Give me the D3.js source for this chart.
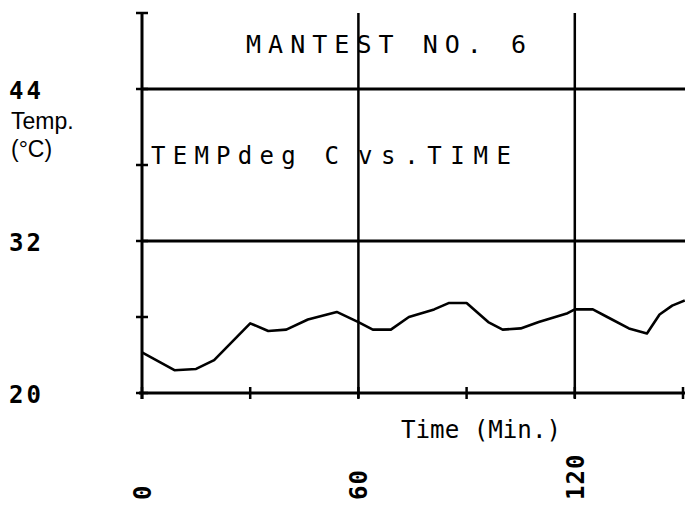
<!DOCTYPE html>
<html>
<head>
<meta charset="utf-8">
<script src="https://d3js.org/d3.v7.min.js"></script>
<style>
  body { margin: 0; padding: 0; background: #fff; }
  svg { display: block; }
  .plot { font-family: "DejaVu Sans Mono", monospace; fill: #000; }
  .lbl { font-family: "Liberation Sans", Arial, sans-serif; fill: #000; }
</style>
</head>
<body>
<script>
// minutes and temperature (deg C)
var times = [0, 9, 15, 20, 30, 35, 40, 46, 54, 60, 64, 69, 74, 81, 85, 90, 96, 100, 105, 110, 118, 120, 125, 129, 135, 140, 143.5, 147, 150.5];
var temps = [23.2, 21.8, 21.9, 22.6, 25.5, 24.9, 25.0, 25.8, 26.4, 25.6, 25.0, 25.0, 26.0, 26.6, 27.1, 27.1, 25.6, 25.0, 25.1, 25.6, 26.3, 26.6, 26.6, 26.0, 25.1, 24.7, 26.2, 26.9, 27.3];
var yTicks = [20, 26, 32, 38, 44, 50];
var yLabels = [20, 32, 44];
var xTicks = [0, 30, 60, 90, 120, 150];
var xLabels = [0, 60, 120];
var gridY = [32, 44];
var gridX = [60, 120];

var width = 685, height = 508;

var svg = d3.select("body").append("svg")
    .attr("width", width)
    .attr("height", height);

var x = d3.scaleLinear().domain([0, 150]).range([142, 683]);
var y = d3.scaleLinear().domain([20, 50]).range([393, 13]);

// grid lines
svg.selectAll(".gy").data(gridY).enter().append("line")
    .attr("x1", x(0)).attr("x2", width)
    .attr("y1", d => y(d)).attr("y2", d => y(d))
    .attr("stroke", "#000").attr("stroke-width", 3);

svg.selectAll(".gx").data(gridX).enter().append("line")
    .attr("x1", d => x(d)).attr("x2", d => x(d))
    .attr("y1", y(50)).attr("y2", y(20) + 5)
    .attr("stroke", "#000").attr("stroke-width", 2.5);

// axes
svg.append("line")
    .attr("x1", x(0)).attr("x2", x(0))
    .attr("y1", y(50)).attr("y2", y(20) + 6)
    .attr("stroke", "#000").attr("stroke-width", 3);
svg.append("line")
    .attr("x1", x(0) - 3).attr("x2", x(150) + 2)
    .attr("y1", y(20)).attr("y2", y(20))
    .attr("stroke", "#000").attr("stroke-width", 3);

svg.selectAll(".ty").data(yTicks).enter().append("line")
    .attr("x1", x(0) - 6).attr("x2", x(0) + 6)
    .attr("y1", d => y(d)).attr("y2", d => y(d))
    .attr("stroke", "#000").attr("stroke-width", 2.5);

svg.selectAll(".tx").data(xTicks).enter().append("line")
    .attr("x1", d => x(d)).attr("x2", d => x(d))
    .attr("y1", y(20) - 6).attr("y2", y(20) + 6)
    .attr("stroke", "#000").attr("stroke-width", 2.5);

// temperature trace
var line = d3.line()
    .x((d, i) => x(times[i]))
    .y(d => y(d));

svg.append("path")
    .datum(temps)
    .attr("fill", "none")
    .attr("stroke", "#000")
    .attr("stroke-width", 2.6)
    .attr("stroke-linejoin", "round")
    .attr("d", line);

// y labels
svg.selectAll(".yl").data(yLabels).enter().append("text")
    .attr("class", "plot")
    .attr("x", 9)
    .attr("y", d => y(d) + 10)
    .attr("font-size", 24)
    .attr("font-weight", "bold")
    .attr("letter-spacing", 3)
    .text(d => d);

// x labels (rotated)
svg.selectAll(".xl").data(xLabels).enter().append("text")
    .attr("class", "plot")
    .attr("transform", d => "translate(" + (x(d) + 9) + ",500) rotate(-90)")
    .attr("font-size", 24)
    .attr("font-weight", "bold")
    .attr("letter-spacing", 1)
    .text(d => d);

// titles
svg.append("text").attr("class", "plot")
    .attr("x", 246).attr("y", 53)
    .attr("font-size", 25)
    .attr("textLength", 280).attr("lengthAdjust", "spacing")
    .text("MANTEST NO. 6");

svg.append("text").attr("class", "plot")
    .attr("x", 151).attr("y", 164)
    .attr("font-size", 24)
    .attr("textLength", 188).attr("lengthAdjust", "spacing")
    .text("TEMPdeg C");

svg.append("text").attr("class", "plot")
    .attr("x", 358).attr("y", 164)
    .attr("font-size", 24)
    .attr("textLength", 153).attr("lengthAdjust", "spacing")
    .text("vs.TIME");

svg.append("text").attr("class", "lbl")
    .attr("x", 11).attr("y", 129)
    .attr("font-size", 23)
    .text("Temp.");

svg.append("text").attr("class", "lbl")
    .attr("x", 11).attr("y", 157)
    .attr("font-size", 23)
    .text("(°C)");

svg.append("text").attr("class", "plot")
    .attr("x", 401).attr("y", 438)
    .attr("font-size", 25)
    .attr("textLength", 160).attr("lengthAdjust", "spacingAndGlyphs")
    .text("Time (Min.)");
</script>
</body>
</html>
